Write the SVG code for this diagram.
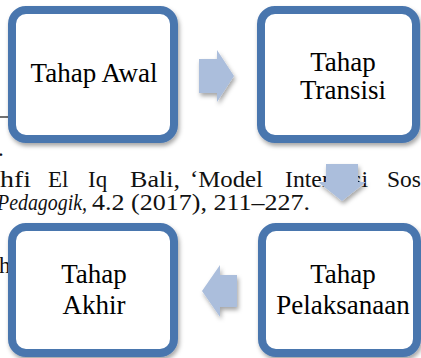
<svg xmlns="http://www.w3.org/2000/svg" width="421" height="358" viewBox="0 0 421 358">
<defs>
<filter id="sh" x="-10%" y="-10%" width="125%" height="130%">
<feDropShadow dx="1.5" dy="3" stdDeviation="2" flood-color="#000" flood-opacity="0.35"/>
</filter>
<style>
.bg{font-family:'Liberation Serif','DejaVu Serif',serif;font-size:23px;fill:#111}
.box{fill:#fff;stroke:#4A76AE;stroke-width:8}
.lbl{font-family:'Liberation Serif','DejaVu Serif',serif;font-size:27px;fill:#000;text-anchor:middle}
.arr{fill:#ABBEDC}
</style>
</defs>
<rect width="421" height="358" fill="#fff"/>
<g id="background-text">
<line x1="0" y1="117" x2="10" y2="117" stroke="#111" stroke-width="1.2"/>
<text class="bg" x="-2" y="156">.</text>
<text class="bg" x="0" y="187" textLength="31" lengthAdjust="spacingAndGlyphs">hfi</text>
<text class="bg" x="48" y="187">El</text>
<text class="bg" x="88" y="187">Iq</text>
<text class="bg" x="130" y="187" textLength="50" lengthAdjust="spacingAndGlyphs">Bali,</text>
<text class="bg" x="190" y="187" textLength="73" lengthAdjust="spacingAndGlyphs">‘Model</text>
<text class="bg" x="285" y="187" textLength="83" lengthAdjust="spacingAndGlyphs">Interaksi</text>
<text class="bg" x="387" y="187" textLength="34" lengthAdjust="spacingAndGlyphs">Sos</text>
<text class="bg" x="-3" y="210" font-style="italic" textLength="90" lengthAdjust="spacingAndGlyphs">Pedagogik,</text>
<text class="bg" x="92" y="210" textLength="218" lengthAdjust="spacingAndGlyphs">4.2 (2017), 211–227.</text>
<text class="bg" x="-1" y="273">hr</text>
</g>
<g id="connectors">
<polygon class="arr" filter="url(#sh)" points="199,59 217,59 217,50 234,76 217,102 217,93 199,93"/>
<polygon class="arr" filter="url(#sh)" points="326,164 358,164 358,182 366,182 342,201 318,182 326,182"/>
<polygon class="arr" filter="url(#sh)" points="237,275 220,275 220,265 202,291 220,317 220,307 237,307"/>
</g>
<g id="node-awal">
<rect class="box" filter="url(#sh)" x="12" y="10" width="162" height="129" rx="14"/>
<text class="lbl" x="94" y="82">Tahap Awal</text>
</g>
<g id="node-transisi">
<rect class="box" filter="url(#sh)" x="261" y="10" width="155" height="129" rx="14"/>
<text class="lbl" x="343" y="71">Tahap</text>
<text class="lbl" x="343" y="99">Transisi</text>
</g>
<g id="node-akhir">
<rect class="box" filter="url(#sh)" x="12" y="227" width="162" height="126" rx="14"/>
<text class="lbl" x="94" y="283">Tahap</text>
<text class="lbl" x="94" y="314">Akhir</text>
</g>
<g id="node-pelaksanaan">
<rect class="box" filter="url(#sh)" x="262" y="227" width="155" height="126" rx="14"/>
<text class="lbl" x="343" y="283">Tahap</text>
<text class="lbl" x="343" y="314">Pelaksanaan</text>
</g>
</svg>
